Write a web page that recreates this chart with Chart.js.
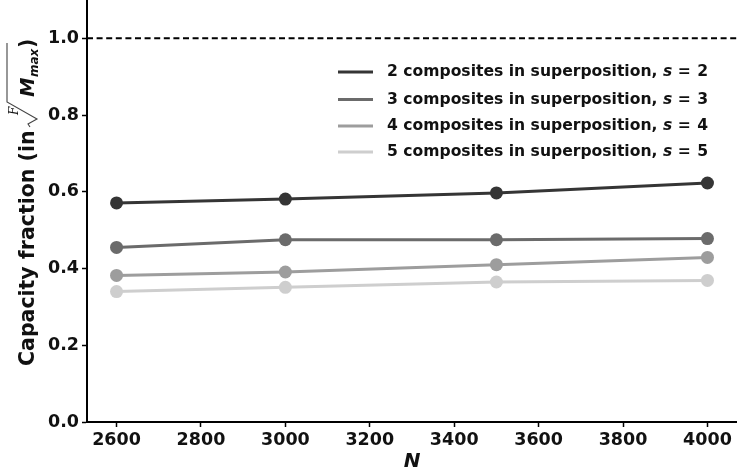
<!DOCTYPE html>
<html lang="en">
<head>
    <meta charset="UTF-8">
    <title>Capacity fraction vs N</title>
    <script src="https://cdn.jsdelivr.net/npm/chart.js"></script>
    <style>
        body {
            margin: 0;
            background: #fff;
        }
        #wrap {
            width: 737px;
            height: 472px;
        }
    </style>
</head>
<body>
    <div id="wrap"><canvas id="grafica"></canvas></div>

    <script>
        // data
        var nValues = [2600, 3000, 3500, 4000];
        var s2 = [0.571, 0.581, 0.597, 0.623];
        var s3 = [0.455, 0.475, 0.475, 0.478];
        var s4 = [0.382, 0.391, 0.410, 0.429];
        var s5 = [0.340, 0.351, 0.365, 0.369];
        var sValues = [2, 3, 4, 5];
        var seriesLabels = [
            '2 composites in superposition',
            '3 composites in superposition',
            '4 composites in superposition',
            '5 composites in superposition'
        ];
        var xTicks = [2600, 2800, 3000, 3200, 3400, 3600, 3800, 4000];
        var yTicks = [0.0, 0.2, 0.4, 0.6, 0.8, 1.0];
        var refLine = 1.0;

        var colores = ['#353535', '#6b6b6b', '#9d9d9d', '#cecece'];
        var FONT = "'DejaVu Sans', sans-serif";

        function puntos(ys) {
            return nValues.map(function(n, i) { return { x: n, y: ys[i] }; });
        }

        var series = [s2, s3, s4, s5];
        var datasets = series.map(function(ys, i) {
            return {
                label: seriesLabels[i],
                data: puntos(ys),
                borderColor: colores[i],
                backgroundColor: colores[i],
                pointBackgroundColor: colores[i],
                pointBorderWidth: 0,
                pointRadius: 6.5,
                borderWidth: 3,
                fill: false,
                tension: 0
            };
        });

        // dashed line at 1.0
        var lineaRef = {
            id: 'lineaRef',
            beforeDatasetsDraw: function(chart) {
                var c = chart.ctx, a = chart.chartArea;
                var y = chart.scales.y.getPixelForValue(refLine);
                c.save();
                c.strokeStyle = '#000';
                c.lineWidth = 2;
                c.setLineDash([6, 3.6]);
                c.beginPath();
                c.moveTo(a.left, y);
                c.lineTo(a.right, y);
                c.stroke();
                c.restore();
            }
        };

        // legend inside the plot, with italic s
        var leyenda = {
            id: 'leyenda',
            afterDatasetsDraw: function(chart) {
                var c = chart.ctx;
                var em = 15.6;
                var x0 = 338, x1 = 373, tx = 387;
                var ys = [72, 99.5, 126, 152];
                c.save();
                c.textBaseline = 'middle';
                c.fillStyle = '#111';
                for (var i = 0; i < seriesLabels.length; i++) {
                    var y = ys[i];
                    c.strokeStyle = colores[i];
                    c.lineWidth = 3;
                    c.beginPath();
                    c.moveTo(x0, y);
                    c.lineTo(x1, y);
                    c.stroke();
                    var x = tx;
                    c.font = 'bold ' + em + 'px ' + FONT;
                    var t = seriesLabels[i] + ', ';
                    c.fillText(t, x, y);
                    x += c.measureText(t).width;
                    c.font = 'italic bold ' + em + 'px ' + FONT;
                    c.fillText('s', x, y);
                    c.font = 'bold ' + em + 'px ' + FONT;
                    c.fillText('=', x + 0.95 * em, y);
                    c.fillText(String(sValues[i]), x + 2.2 * em, y);
                }
                c.restore();
            }
        };

        // axis titles (y title has a root sign)
        var titulos = {
            id: 'titulos',
            afterDraw: function(chart) {
                var c = chart.ctx, a = chart.chartArea;
                c.save();
                c.fillStyle = '#111';
                c.textBaseline = 'alphabetic';
                c.textAlign = 'center';
                c.font = 'italic bold 20px ' + FONT;
                c.fillText('N', (a.left + a.right) / 2, 467);

                c.textAlign = 'left';
                c.translate(34, 366);
                c.rotate(-Math.PI / 2);
                c.font = 'bold 20.5px ' + FONT;
                c.fillText('Capacity fraction (in', 0, 0);
                // radical with index F over M_max
                c.strokeStyle = '#444';
                c.lineWidth = 1.1;
                c.beginPath();
                c.moveTo(239, -4);
                c.lineTo(242, -6);
                c.lineTo(247, 3);
                c.lineTo(264, -27);
                c.lineTo(323, -27);
                c.stroke();
                c.font = 'italic 12px "DejaVu Serif", serif';
                c.fillText('F', 251, -16);
                c.font = 'italic bold 19.5px ' + FONT;
                c.fillText('M', 269, 0);
                c.font = 'italic bold 12px ' + FONT;
                c.fillText('max', 289, 4);
                c.font = 'bold 20.5px ' + FONT;
                c.fillText(')', 318, 0);
                c.restore();
            }
        };

        function sinRelleno(s) {
            s.paddingTop = 0;
            s.paddingBottom = 0;
            s.paddingLeft = 0;
            s.paddingRight = 0;
        }

        var ctx = document.getElementById('grafica').getContext('2d');
        var grafica = new Chart(ctx, {
            type: 'line',
            data: { datasets: datasets },
            plugins: [lineaRef, leyenda, titulos],
            options: {
                responsive: true,
                maintainAspectRatio: false,
                animation: false,
                layout: { padding: 0, autoPadding: false },
                plugins: {
                    legend: { display: false },
                    tooltip: { enabled: false }
                },
                scales: {
                    x: {
                        type: 'linear',
                        min: 2530,
                        max: 4070,
                        afterBuildTicks: function(s) {
                            s.ticks = xTicks.map(function(v) { return { value: v }; });
                        },
                        afterFit: function(s) { s.height = 50; sinRelleno(s); },
                        grid: {
                            drawOnChartArea: false,
                            tickLength: 5,
                            tickWidth: 1.5,
                            tickColor: '#000'
                        },
                        border: { color: '#000', width: 2 },
                        ticks: {
                            color: '#111',
                            padding: 3,
                            maxRotation: 0,
                            autoSkip: false,
                            font: { family: FONT, size: 17.5, weight: 'bold' },
                            callback: function(v) { return String(v); }
                        }
                    },
                    y: {
                        min: 0,
                        max: 1.1,
                        afterBuildTicks: function(s) {
                            s.ticks = yTicks.map(function(v) { return { value: v }; });
                        },
                        afterFit: function(s) { s.width = 87; sinRelleno(s); },
                        grid: {
                            drawOnChartArea: false,
                            tickLength: 5,
                            tickWidth: 1.5,
                            tickColor: '#000'
                        },
                        border: { color: '#000', width: 2 },
                        ticks: {
                            color: '#111',
                            padding: 3,
                            font: { family: FONT, size: 17.5, weight: 'bold' },
                            callback: function(v) { return Number(v).toFixed(1); }
                        }
                    }
                }
            }
        });
    </script>
</body>
</html>
